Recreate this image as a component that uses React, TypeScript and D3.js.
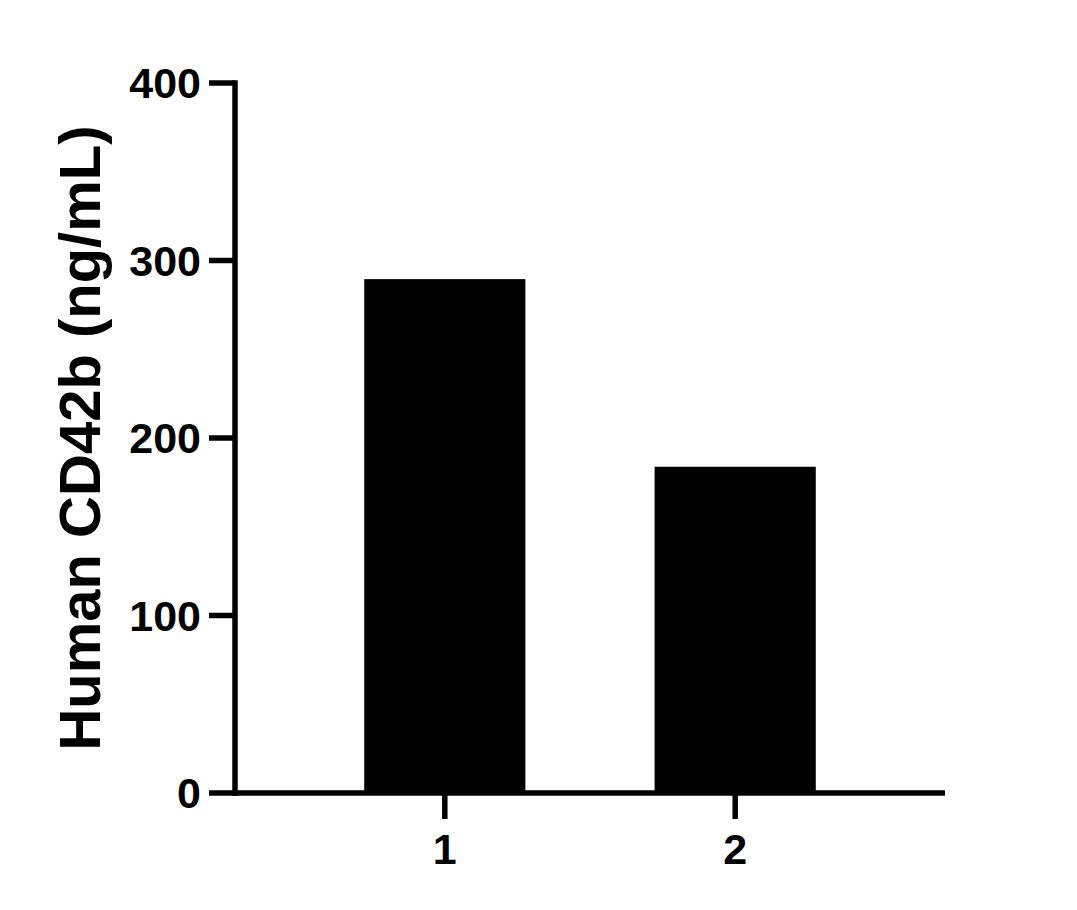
import { scaleBand, scaleLinear } from "d3";

const categories = ["1", "2"];
const values = [289.5, 183.8];
const yTicks = [0, 100, 200, 300, 400];
const yTitle = "Human CD42b (ng/mL)";

const width = 1077;
const height = 910;
const margin = { top: 83, right: 132, bottom: 117, left: 235 };
const font = "'Liberation Sans', Arial, Helvetica, sans-serif";
const stroke = 5.5;

export default function App() {
  const x = scaleBand()
    .domain(categories)
    .range([margin.left, width - margin.right])
    .paddingInner(0.445)
    .paddingOuter(0.445);

  const y = scaleLinear()
    .domain([0, 400])
    .range([height - margin.bottom, margin.top]);

  const y0 = y(0);

  return (
    <svg
      width={width}
      height={height}
      style={{ position: "absolute", left: 0, top: 0, background: "#fff" }}
      fontFamily={font}
      fontWeight="bold"
    >
      <rect width={width} height={height} fill="#fff" />

      {/* Bars */}
      {categories.map((c, i) => (
        <rect
          key={`bar-${c}`}
          x={x(c)}
          y={y(values[i])}
          width={x.bandwidth()}
          height={y0 - y(values[i])}
          fill="#000"
        />
      ))}

      {/* Y axis */}
      <line
        x1={margin.left}
        x2={margin.left}
        y1={y(400) - stroke / 2}
        y2={y0 + stroke / 2}
        stroke="#000"
        strokeWidth={stroke}
      />
      {yTicks.map((t) => (
        <g key={`yt-${t}`}>
          <line
            x1={margin.left - 26}
            x2={margin.left}
            y1={y(t)}
            y2={y(t)}
            stroke="#000"
            strokeWidth={stroke}
          />
          <text
            x={margin.left - 34}
            y={y(t)}
            dy="0.36em"
            textAnchor="end"
            fontSize={43}
            fill="#000"
          >
            {t}
          </text>
        </g>
      ))}

      {/* X axis */}
      <line
        x1={margin.left}
        x2={width - margin.right}
        y1={y0}
        y2={y0}
        stroke="#000"
        strokeWidth={stroke}
      />
      {categories.map((c) => {
        const cx = (x(c) ?? 0) + x.bandwidth() / 2;
        return (
          <g key={`xt-${c}`}>
            <line
              x1={cx}
              x2={cx}
              y1={y0}
              y2={y0 + 26}
              stroke="#000"
              strokeWidth={stroke}
            />
            <text x={cx} y={y0 + 71} textAnchor="middle" fontSize={43} fill="#000">
              {c}
            </text>
          </g>
        );
      })}

      {/* Y title */}
      <text
        transform={`translate(100, ${(y0 + y(400)) / 2}) rotate(-90)`}
        textAnchor="middle"
        fontSize={58}
        fill="#000"
      >
        {yTitle}
      </text>
    </svg>
  );
}
